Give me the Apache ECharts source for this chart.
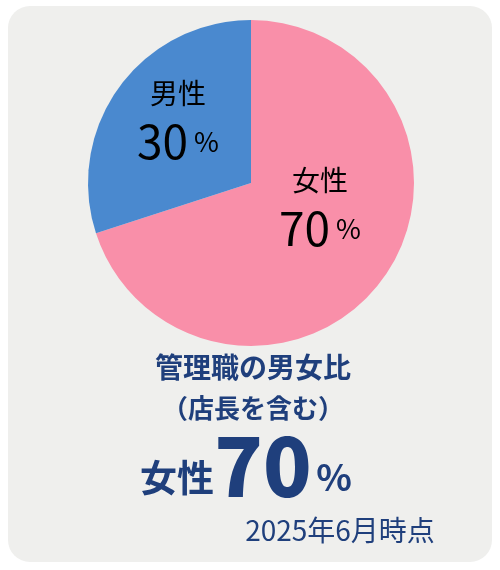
<!DOCTYPE html>
<html lang="ja">
<head>
    <meta charset="utf-8">
    <title>管理職の男女比</title>
    <script src="https://cdn.jsdelivr.net/npm/echarts@6/dist/echarts.min.js"></script>
    <style>
        html, body { margin: 0; padding: 0; background: #fff; }
        #pie { width: 500px; height: 570px; }
    </style>
</head>
<body>
<div id="pie"></div>
<script>
    // データ
    var names = ['女性', '男性'];
    var values = [70, 30];
    var colors = ['#f98fa9', '#4a89cf'];
    var note = '2025年6月時点';

    var navy = '#1f3f7c';
    var font = '"Noto Sans CJK JP", "Noto Sans", sans-serif';

    var chartDom = document.getElementById('pie');
    var myChart = echarts.init(chartDom);

    // ラベル位置（手で合わせた）
    var labelPos = [[320, 206], [178, 119]];

    var pieData = [];
    for (var i = 0; i < names.length; i++) {
        pieData.push({ name: names[i], value: values[i], itemStyle: { color: colors[i] } });
    }

    var option = {
        backgroundColor: '#ffffff',
        animation: false,
        graphic: [
            {
                type: 'rect', z: -10,
                shape: { x: 8, y: 6, width: 484, height: 556, r: 22 },
                style: { fill: '#efefed' }
            },
            {
                type: 'text', x: 253, y: 367,
                style: {
                    text: '管理職の男女比', font: 'bold 28px ' + font,
                    fill: navy, align: 'center', verticalAlign: 'middle'
                }
            },
            {
                type: 'text', x: 253, y: 408,
                style: {
                    text: '（店長を含む）', font: 'bold 26px ' + font,
                    fill: navy, align: 'center', verticalAlign: 'middle'
                }
            },
            {
                type: 'text', x: 177, y: 478,
                style: {
                    text: names[0], font: 'bold 37px ' + font,
                    fill: navy, align: 'center', verticalAlign: 'middle'
                }
            },
            {
                type: 'text', x: 263, y: 467,
                style: {
                    text: String(values[0]), font: '900 80px ' + font,
                    fill: navy, align: 'center', verticalAlign: 'middle'
                }
            },
            {
                type: 'text', x: 334, y: 477,
                style: {
                    text: '%', font: 'bold 37px ' + font,
                    fill: navy, align: 'center', verticalAlign: 'middle'
                }
            },
            {
                type: 'text', x: 340, y: 530,
                style: {
                    text: note, font: '28px ' + font,
                    fill: navy, align: 'center', verticalAlign: 'middle'
                }
            }
        ],
        series: [
            {
                type: 'pie',
                center: [251, 183],
                radius: 163,
                startAngle: 90,
                clockwise: true,
                silent: true,
                itemStyle: { borderWidth: 0 },
                label: {
                    show: true,
                    position: 'inside',
                    formatter: function (p) {
                        return '{n|' + p.name + '}\n{v|' + p.value + '}{p| %}';
                    },
                    align: 'center',
                    rich: {
                        n: { fontFamily: font, fontSize: 28, color: '#000', lineHeight: 46 },
                        v: { fontFamily: font, fontSize: 46, color: '#000', lineHeight: 52 },
                        p: { fontFamily: font, fontSize: 27, color: '#000', lineHeight: 52 }
                    }
                },
                labelLayout: function (params) {
                    var pos = labelPos[params.dataIndex];
                    return { x: pos[0], y: pos[1], align: 'center', verticalAlign: 'middle' };
                },
                labelLine: { show: false },
                data: pieData
            }
        ]
    };

    myChart.setOption(option);
</script>
</body>
</html>
